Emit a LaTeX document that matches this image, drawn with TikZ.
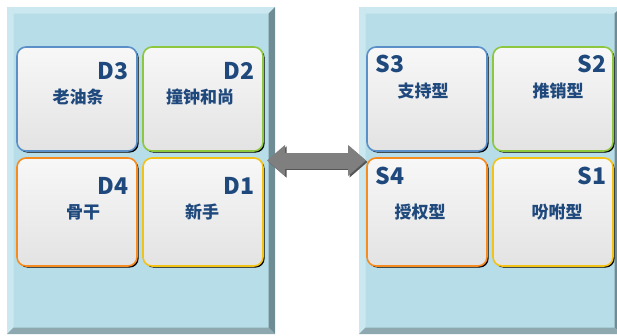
\documentclass[tikz,border=0pt]{standalone}
\usepackage{fontspec}
\setmainfont{Noto Sans CJK SC}
\usetikzlibrary{arrows.meta,shadows}

\definecolor{panelface}{HTML}{B7DDE8}
\definecolor{panellight}{HTML}{CBE7EF}
\definecolor{panelright}{HTML}{6F8C94}
\definecolor{panelbottom}{HTML}{8EA8AF}
\definecolor{inkblue}{HTML}{1F497D}
\definecolor{boxblue}{HTML}{5A8FC8}
\definecolor{boxgreen}{HTML}{8DC63F}
\definecolor{boxorange}{HTML}{F68B1F}
\definecolor{boxyellow}{HTML}{F2C314}
\definecolor{arrowgray}{HTML}{7F7F7F}
\definecolor{arrowdark}{HTML}{555555}

\tikzset{
    panel/.style={fill=panelface, inner sep=0pt, outer sep=0pt},
    quad/.style={rounded corners=9pt, line width=1.6pt, minimum width=120pt,
        top color=gray!6, bottom color=gray!22, inner sep=0pt,
        drop shadow={shadow xshift=1.6pt, shadow yshift=-1.6pt, fill=black, opacity=1}},
    tag/.style={font=\fontsize{23}{23}\selectfont\bfseries, text=inkblue, inner sep=0pt},
    words/.style={font=\fontsize{17}{17}\selectfont\bfseries, text=inkblue, inner sep=0pt},
    bigarrow/.style={line width=16pt, {Triangle[width=30pt,length=18pt]}-{Triangle[width=30pt,length=18pt]},
        shorten <=-8pt, shorten >=-7pt}
}

% bevelled edge round a panel node
\newcommand\bevel[1]{%
    \fill[panellight] (#1.south west) -- (#1.north west) -- (#1.north east)
        -- ([shift={(-6.5,6.5)}]#1.north east) -- ([shift={(6.5,6.5)}]#1.north west)
        -- ([shift={(6.5,-6.5)}]#1.south west) -- cycle;
    \fill[panelright] (#1.north east) -- (#1.south east)
        -- ([shift={(-6.5,-6.5)}]#1.south east) -- ([shift={(-6.5,6.5)}]#1.north east) -- cycle;
    \fill[panelbottom] (#1.south west) -- (#1.south east)
        -- ([shift={(-6.5,-6.5)}]#1.south east) -- ([shift={(6.5,-6.5)}]#1.south west) -- cycle;
}

\begin{document}
\begin{tikzpicture}[x=1pt,y=-1pt]
    \useasboundingbox (0,0) rectangle (617,335);

    % Two panels
    \node[panel, minimum width=268pt, minimum height=327pt] (LeftPanel) at (141,170.5) {};
    \node[panel, minimum width=262pt, minimum height=327pt] (RightPanel) at (490,170.5) {};
    \bevel{LeftPanel}
    \bevel{RightPanel}

    % Arrow between them, shadow first
    \draw [bigarrow, arrowdark, transform canvas={shift={(1.5pt,-1.5pt)}}]
        ([yshift=10pt]LeftPanel.east) -- ([yshift=10pt]RightPanel.west);
    \draw [bigarrow, arrowgray]
        ([yshift=10pt]LeftPanel.east) -- ([yshift=10pt]RightPanel.west);

    % Quadrants
    \foreach \n/\x/\y/\h/\c in {D3/77/99/104/boxblue, D2/203/99/104/boxgreen,
        D4/77/212/108/boxorange, D1/203/212/108/boxyellow,
        S3/427/99/104/boxblue, S2/553/99/104/boxgreen,
        S4/427/212/108/boxorange, S1/553/212/108/boxyellow}
    {
        \node[quad, draw=\c, minimum height=\h pt] (\n) at (\x,\y) {};
    }

    \foreach \n/\dy in {D3/25,D2/25,D4/29,D1/29}
        \node[tag, anchor=east] at ([shift={(-9,\dy)}]\n.north east) {\n};
    \foreach \n/\dy in {S3/18,S4/19}
        \node[tag, anchor=west] at ([shift={(9,\dy)}]\n.north west) {\n};
    \foreach \n/\dy in {S2/18,S1/19}
        \node[tag, anchor=east] at ([shift={(-7,\dy)}]\n.north east) {\n};

    \foreach \n/\dx/\dy/\t in {D3/1/51/老油条, D2/-3/51/撞钟和尚, D4/6/55/骨干, D1/-1/55/新手,
        S3/-4/45/支持型, S2/5/45/推销型, S4/-7/55/授权型, S1/4/55/吩咐型}
        \node[words] at ([shift={(\dx,\dy)}]\n.north) {\t};
\end{tikzpicture}
\end{document}
